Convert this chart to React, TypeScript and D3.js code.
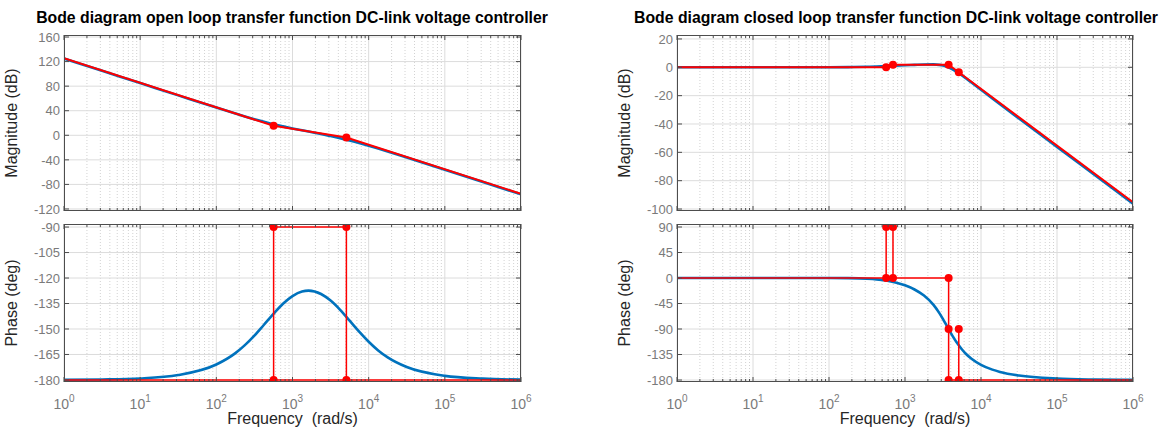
import React from 'react';
import * as d3 from 'd3';

// open loop: blue curve samples
const freqOpen = [1, 3.16, 10, 31.6, 100, 178, 237, 316, 422, 562, 750, 1000, 1334, 1625, 2371, 3162, 4217, 5623, 7499, 10000, 13335, 17783, 31623, 100000, 316228, 1000000];
const magOpen = [125, 105, 85, 65, 45.1, 35.4, 30.7, 26.2, 22.0, 18.0, 14.5, 11.2, 8.1, 6.0, 2.0, -1.3, -4.7, -8.5, -12.7, -17.1, -21.7, -26.5, -36.3, -56.2, -76.2, -96.2];
const phaseOpen = [-179.9, -179.7, -179.1, -177.1, -170.9, -164.2, -159.5, -153.9, -147.5, -141.1, -135.1, -130.6, -127.9, -127.4, -129.4, -133.3, -138.7, -145.1, -151.6, -157.5, -162.6, -166.7, -172.4, -177.6, -179.2, -179.8];

// open loop: red asymptotes
const asymMagOpen = [[1, 125.5], [565, 15.4], [5100, -3.7], [1000000, -95.4]];
const asymMagOpenDots = [[565, 15.4], [5100, -3.7]];
const asymPhaseOpen = [
  [[1, -180], [1000000, -180]],
  [[565, -180], [565, -90], [5100, -90], [5100, -180]],
];
const asymPhaseOpenDots = [[565, -180], [565, -90], [5100, -90], [5100, -180]];

// closed loop: blue curve samples
const freqClosed = [1, 10, 100, 178, 316, 422, 562, 750, 1000, 1334, 1778, 2371, 2818, 3162, 3548, 4217, 5012, 5623, 6310, 7499, 10000, 14125, 17783, 31623, 100000, 316228, 1000000];
const magClosed = [0, 0, 0.05, 0.14, 0.39, 0.6, 0.86, 1.15, 1.45, 1.74, 2.0, 2.04, 1.74, 1.25, 0.45, -1.39, -3.85, -5.72, -7.7, -10.74, -15.88, -22.02, -26.08, -36.15, -56.18, -76.18, -96.18];
const phaseClosed = [0, -0.01, -0.06, -0.26, -1.2, -2.4, -4.5, -7.9, -12.9, -20.3, -31.0, -47.5, -61.5, -72.5, -84.5, -102.0, -117.5, -126.2, -133.6, -142.5, -153.2, -161.7, -165.7, -172.1, -177.5, -179.2, -179.8];

// closed loop: red asymptotes
const asymMagClosed = [[1, 0], [565, 0], [695, 1.8], [3750, 1.8], [5100, -3.5], [1000000, -95.2]];
const asymMagClosedDots = [[565, 0], [695, 1.8], [3750, 1.8], [5100, -3.5]];
const asymPhaseClosed = [
  [[1, 0], [3750, 0], [3750, -180], [1000000, -180]],
  [[565, 0], [565, 90], [695, 90], [695, 0]],
  [[5100, -90], [5100, -180]],
];
const asymPhaseClosedDots = [[565, 0], [565, 90], [695, 0], [695, 90], [3750, 0], [3750, -90], [3750, -180], [5100, -90], [5100, -180]];

// ticks
const decades = [0, 1, 2, 3, 4, 5, 6];
const magTicksOpen = [-120, -80, -40, 0, 40, 80, 120, 160];
const phaseTicksOpen = [-180, -165, -150, -135, -120, -105, -90];
const magTicksClosed = [-100, -80, -60, -40, -20, 0, 20];
const phaseTicksClosed = [-180, -135, -90, -45, 0, 45, 90];

const FONT = '"Liberation Sans", Arial, Helvetica, sans-serif';
const BLUE = '#0072BD';
const RED = '#FF0000';
const BOX = '#4d4d4d';

const minorFreqs: number[] = [];
for (let d = 0; d < 6; d++) for (let m = 2; m <= 9; m++) minorFreqs.push(m * Math.pow(10, d));

type Pt = number[];

function Axes({ id, x, y, yTicks, freq, vals, asym, dots, top, bottom, xLabels, yLabel }: any) {
  const [y0, y1] = y.range();
  const [x0, x1] = x.range();
  const line = d3.line<Pt>().x(d => x(d[0])).y(d => y(d[1]));
  const curve = d3.line<number>().x((_, i) => x(freq[i])).y(d => y(d)).curve(d3.curveMonotoneX);
  const cy = (y0 + y1) / 2;
  return (
    <g>
      <defs>
        <clipPath id={id}><rect x={x0} y={y1} width={x1 - x0} height={y0 - y1} /></clipPath>
      </defs>
      {minorFreqs.map(f => (
        <line key={'mg' + f} x1={x(f)} x2={x(f)} y1={y1} y2={y0} stroke="#d2d2d2" strokeDasharray="1,2" />
      ))}
      {decades.map(d => (
        <line key={'gx' + d} x1={x(Math.pow(10, d))} x2={x(Math.pow(10, d))} y1={y1} y2={y0} stroke="#dcdcdc" />
      ))}
      {yTicks.map((t: number) => (
        <line key={'gy' + t} x1={x0} x2={x1} y1={y(t)} y2={y(t)} stroke="#dcdcdc" />
      ))}
      <g clipPath={`url(#${id})`}>
        <path d={curve(vals) || ''} fill="none" stroke={BLUE} strokeWidth={2.6} />
        {asym.map((seg: Pt[], i: number) => (
          <path key={i} d={line(seg) || ''} fill="none" stroke={RED} strokeWidth={top ? 2 : 1.5} />
        ))}
        {dots.map((p: Pt, i: number) => (
          <circle key={'d' + i} cx={x(p[0])} cy={y(p[1])} r={4} fill={RED} />
        ))}
      </g>
      <rect x={x0 + 0.5} y={y1 + 0.5} width={x1 - x0 - 1} height={y0 - y1 - 1} fill="none" stroke={BOX} />
      {decades.map(d => {
        const px = x(Math.pow(10, d));
        return (
          <g key={'tx' + d}>
            <line x1={px} x2={px} y1={y0} y2={y0 - 5} stroke={BOX} />
            <line x1={px} x2={px} y1={y1} y2={y1 + 5} stroke={BOX} />
          </g>
        );
      })}
      {minorFreqs.map(f => (
        <g key={'tm' + f}>
          <line x1={x(f)} x2={x(f)} y1={y0} y2={y0 - 3} stroke={BOX} />
          <line x1={x(f)} x2={x(f)} y1={y1} y2={y1 + 3} stroke={BOX} />
        </g>
      ))}
      {yTicks.map((t: number) => (
        <g key={'ty' + t}>
          <line x1={x0} x2={x0 + 5} y1={y(t)} y2={y(t)} stroke={BOX} />
          <line x1={x1} x2={x1 - 5} y1={y(t)} y2={y(t)} stroke={BOX} />
          <text x={x0 - 4} y={y(t)} dy="0.36em" textAnchor="end" fontSize={13} fill="#7a7a7a" fontFamily={FONT}>{t}</text>
        </g>
      ))}
      <text transform={`translate(${x0 - 47},${cy}) rotate(-90)`} textAnchor="middle" fontSize={16} fill="#262626" fontFamily={FONT}>{yLabel}</text>
      {xLabels && decades.map(d => (
        <text key={'lx' + d} x={x(Math.pow(10, d))} y={y0 + 27} textAnchor="middle" fontSize={14} fill="#7a7a7a" fontFamily={FONT}>
          10<tspan dy={-7} fontSize={10}>{d}</tspan>
        </text>
      ))}
      {bottom && (
        <text x={(x0 + x1) / 2} y={y0 + 42} textAnchor="middle" fontSize={16} fill="#262626" fontFamily={FONT} style={{ whiteSpace: 'pre' }}>{'Frequency  (rad/s)'}</text>
      )}
    </g>
  );
}

function Panel({ id, x0, x1, titleX, title, magDomain, phDomain, magTicks, phTicks, freq, mag, phase, aMag, aMagDots, aPh, aPhDots }: any) {
  const x = d3.scaleLog().domain([1, 1e6]).range([x0, x1]);
  const yMag = d3.scaleLinear().domain(magDomain).range([211, 35]);
  const yPh = d3.scaleLinear().domain(phDomain).range([382, 224]);
  return (
    <g>
      <text x={titleX} y={23} textAnchor="middle" fontSize={15.8} fontWeight="bold" fill="#000" fontFamily={FONT}>{title}</text>
      <Axes id={id + 'm'} x={x} y={yMag} yTicks={magTicks} freq={freq} vals={mag} asym={[aMag]} dots={aMagDots} top yLabel="Magnitude (dB)" />
      <Axes id={id + 'p'} x={x} y={yPh} yTicks={phTicks} freq={freq} vals={phase} asym={aPh} dots={aPhDots} bottom xLabels yLabel="Phase (deg)" />
    </g>
  );
}

export default function App() {
  return (
    <svg width={1172} height={432} style={{ position: 'absolute', left: 0, top: 0, background: '#fff' }}>
      <rect width={1172} height={432} fill="#fff" />
      <Panel id="ol" x0={64} x1={521} titleX={292}
        title="Bode diagram open loop transfer function DC-link voltage controller"
        magDomain={[-123.3, 163.3]} phDomain={[-181.2, -88.2]}
        magTicks={magTicksOpen} phTicks={phaseTicksOpen}
        freq={freqOpen} mag={magOpen} phase={phaseOpen}
        aMag={asymMagOpen} aMagDots={asymMagOpenDots} aPh={asymPhaseOpen} aPhDots={asymPhaseOpenDots} />
      <Panel id="cl" x0={677} x1={1133} titleX={896}
        title="Bode diagram closed loop transfer function DC-link voltage controller"
        magDomain={[-101.4, 22.8]} phDomain={[-183.5, 95.3]}
        magTicks={magTicksClosed} phTicks={phaseTicksClosed}
        freq={freqClosed} mag={magClosed} phase={phaseClosed}
        aMag={asymMagClosed} aMagDots={asymMagClosedDots} aPh={asymPhaseClosed} aPhDots={asymPhaseClosedDots} />
    </svg>
  );
}
